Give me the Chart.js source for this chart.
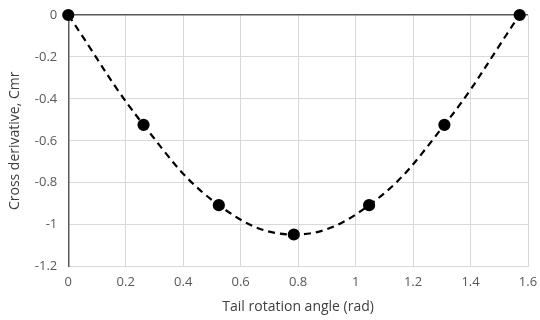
<!DOCTYPE html>
<html>
<head>
<meta charset="utf-8">
<script src="https://cdn.jsdelivr.net/npm/chart.js@4/dist/chart.umd.min.js"></script>
<style>
	html, body { margin: 0; padding: 0; background: #fff; }
	#wrap { width: 540px; height: 320px; }
</style>
</head>
<body>
<div id="wrap"><canvas id="chart"></canvas></div>
<script>
const angles = [0, 0.262, 0.524, 0.785, 1.047, 1.309, 1.571];
const cmr = [0, -0.524, -0.907, -1.047, -0.907, -0.524, 0];
const xTitle = "Tail rotation angle (rad)";
const yTitle = "Cross derivative, Cmr";

const points = angles.map((x, i) => ({x, y: cmr[i]}));
const fontFamily = "'Open Sans', 'Liberation Sans', sans-serif";
const plainNumber = (value) => String(Math.round(value * 10) / 10);

new Chart(document.getElementById("chart"), {
	type: "scatter",
	data: {
		datasets: [
			{
				data: points,
				showLine: true,
				tension: 0.4,
				borderColor: "#000",
				borderWidth: 2.2,
				borderDash: [7, 5],
				backgroundColor: "#000",
				pointRadius: 5,
				pointHoverRadius: 5,
				clip: false
			}
		]
	},
	options: {
		responsive: true,
		maintainAspectRatio: false,
		animation: false,
		layout: {padding: {top: 15, right: 12, left: 2, bottom: 0}},
		plugins: {
			legend: {display: false},
			tooltip: {enabled: false}
		},
		scales: {
			x: {
				type: "linear",
				min: 0,
				max: 1.6,
				afterFit: (scale) => { scale.paddingRight = 0; },
				ticks: {stepSize: 0.2, color: "#595959", font: {family: fontFamily, size: 13}, padding: 8, callback: plainNumber},
				grid: {color: "#d9d9d9", lineWidth: 1, drawTicks: false},
				border: {color: "#d9d9d9"},
				title: {display: true, text: xTitle, color: "#404040", font: {family: fontFamily, size: 14}, padding: {top: 0, bottom: 5}}
			},
			y: {
				min: -1.2,
				max: 0,
				afterFit: (scale) => { scale.paddingTop = 0; },
				ticks: {stepSize: 0.2, color: "#595959", font: {family: fontFamily, size: 13}, padding: 11, callback: plainNumber},
				grid: {
					color: (ctx) => ctx.tick && ctx.tick.value === 0 ? "#595959" : "#d9d9d9",
					lineWidth: (ctx) => ctx.tick && ctx.tick.value === 0 ? 1.5 : 1,
					drawTicks: false
				},
				border: {color: "#595959", width: 1.5},
				title: {display: true, text: yTitle, color: "#404040", font: {family: fontFamily, size: 14}, padding: {top: 5, bottom: 0}}
			}
		}
	}
});
</script>
</body>
</html>
